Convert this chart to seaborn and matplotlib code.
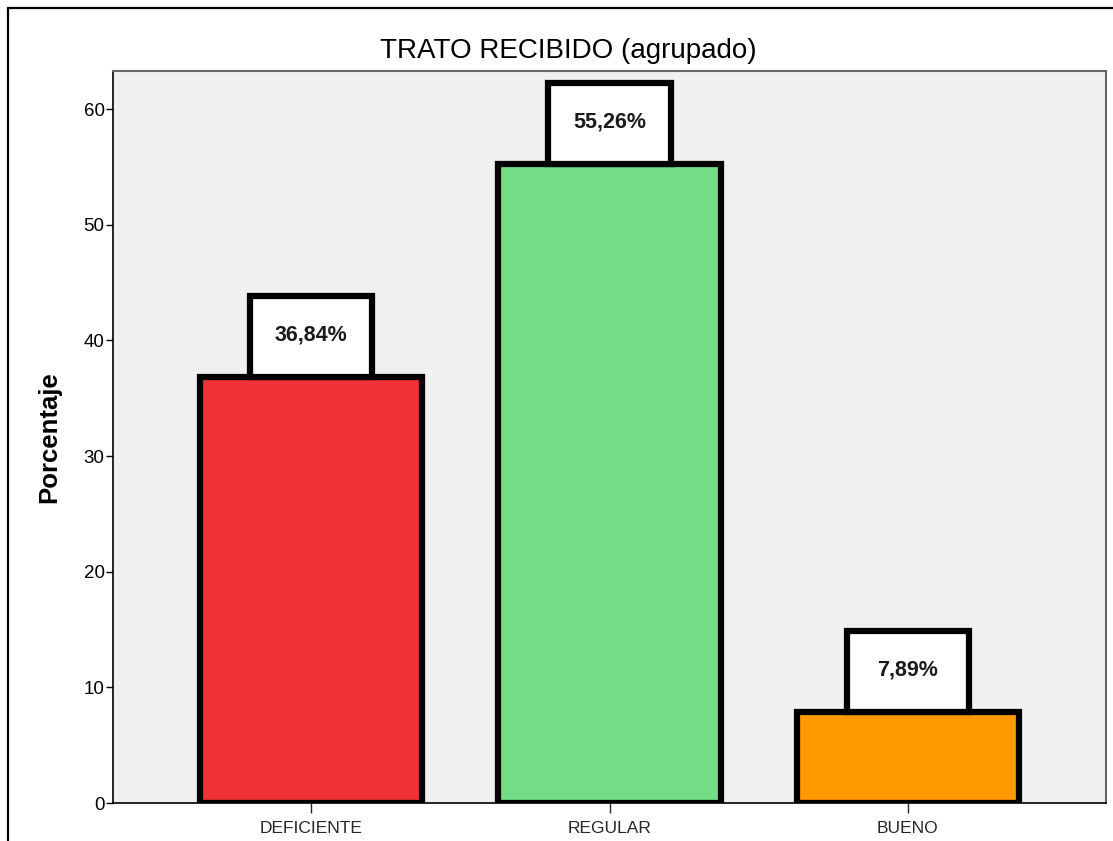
import matplotlib
matplotlib.use("Agg")
import matplotlib.pyplot as plt
import seaborn as sns
import pandas as pd
from matplotlib.lines import Line2D

# datos del grafico (SPSS style)
categorias = ["DEFICIENTE", "REGULAR", "BUENO"]
porcentajes = [36.84, 55.26, 7.89]
etiquetas = ["36,84%", "55,26%", "7,89%"]
colores = ["#f03238", "#72dd84", "#ff9900"]

df = pd.DataFrame({"cat": categorias, "pct": porcentajes})

sns.set_style("white", {"axes.facecolor": "#f0f0f0"})
plt.rcParams["font.family"] = ["Liberation Sans", "DejaVu Sans"]

fig = plt.figure(figsize=(11.13, 8.41), dpi=100)
ax = fig.add_axes([113/1113, 38/841, (1106-113)/1113, (803-71)/841])

sns.barplot(data=df, x="cat", y="pct", hue="cat", palette=colores, legend=False,
            width=0.745, edgecolor="black", linewidth=4.5, saturation=1, ax=ax)

# cajas blancas con el porcentaje encima de cada barra
alto_caja = 7
ax.bar(range(len(categorias)), [alto_caja]*3, bottom=porcentajes, width=0.41,
       color="white", edgecolor="black", linewidth=4.5, zorder=3)
for i, (v, t) in enumerate(zip(porcentajes, etiquetas)):
    ax.text(i, v + alto_caja/2 + 0.15, t, ha="center", va="center", fontsize=15.5,
            fontweight="bold", color="#1a1a1a", zorder=4)

ax.set_xlim(-0.665, 2.665)
ax.set_ylim(0, 63.3)
ax.set_yticks([0, 10, 20, 30, 40, 50, 60])
ax.tick_params(axis="y", length=5, width=1, labelsize=13.5, colors="black", pad=1, direction="out", left=True)
ax.tick_params(axis="x", length=7, width=1, labelsize=12.5, pad=6, bottom=True)
ax.set_xlabel("")
ax.set_ylabel("Porcentaje", fontsize=18.5, fontweight="bold", labelpad=16, color="black")
ax.set_title("TRATO RECIBIDO (agrupado)", fontsize=20, pad=9, color="black", x=0.459)

for s in ["left", "bottom"]:
    ax.spines[s].set_color("black")
    ax.spines[s].set_linewidth(1.2)
for s in ["top", "right"]:
    ax.spines[s].set_color("#666666")
    ax.spines[s].set_linewidth(1.5)

# borde exterior de la figura
fig.add_artist(Line2D([8/1113, 1], [1 - 8/841, 1 - 8/841], color="black", lw=1.6))
fig.add_artist(Line2D([8/1113, 8/1113], [0, 1 - 8/841], color="black", lw=1.6))

fig.savefig("out.png", dpi=100)
